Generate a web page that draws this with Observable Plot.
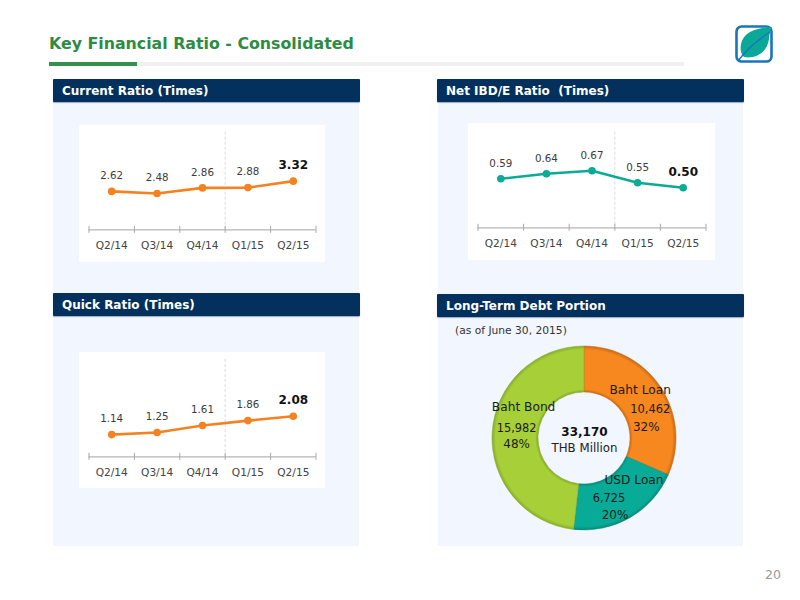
<!DOCTYPE html>
<html><head><meta charset="utf-8">
<script src="https://cdn.jsdelivr.net/npm/d3@7"></script>
<script src="https://cdn.jsdelivr.net/npm/@observablehq/plot@0.6"></script>
<style>
html,body{margin:0;padding:0;background:#fff;font-family:"DejaVu Sans",sans-serif}
#page{position:relative;width:800px;height:600px;overflow:hidden}
#page>*{position:absolute}
.bg{background:#f2f6fe}
.hd{background:#03305c;color:#fff;font-weight:bold;font-size:12px;line-height:24px;padding-left:9px;box-sizing:border-box;border-radius:1px;box-shadow:0 1px 1px rgba(0,30,70,.35);white-space:pre}
#title{left:49px;top:34px;color:#2e8b44;font-weight:bold;font-size:15.8px;line-height:20px;white-space:pre}
.chart svg{display:block}
</style></head><body>
<div id="page">
  <div id="title">Key Financial Ratio - Consolidated</div>
  <div style="left:137px;top:62px;width:547px;height:4px;background:#f1f0f1"></div>
  <div style="left:49px;top:62px;width:88px;height:4px;background:#34914a"></div>
  <svg style="left:734px;top:24px" width="41" height="40" viewBox="0 0 41 40">
    <rect x="2.5" y="2.5" width="35" height="35" rx="5" fill="#fff" stroke="#1b75bb" stroke-width="2.6"/>
    <path d="M38 3 C24 4 10 7 7 20 C6 26 7 30 10 33 C20 35 33 30 35 15 C35.5 10 36 6 38 3Z" fill="#0aa896"/>
    <path d="M4 37 C12 26 22 17 36 8" fill="none" stroke="#1b75bb" stroke-width="1.4"/>
  </svg>
  <div class="bg" style="left:53px;top:102px;width:306px;height:444px"></div>
  <div class="bg" style="left:438px;top:102px;width:305px;height:444px"></div>
  <div class="hd" style="left:53px;top:79px;width:307px;height:23px">Current Ratio (Times)</div>
  <div class="hd" style="left:437px;top:79px;width:307px;height:23px">Net IBD/E Ratio  (Times)</div>
  <div class="hd" style="left:53px;top:293px;width:307px;height:23px">Quick Ratio (Times)</div>
  <div class="hd" style="left:437px;top:294px;width:307px;height:23px">Long-Term Debt Portion</div>
  <div id="asof" style="left:455px;top:323px;font-size:10.7px;line-height:16px;color:#333">(as of June 30, 2015)</div>
  <div class="chart" id="c1" style="left:79px;top:125px"></div>
  <div class="chart" id="c2" style="left:468px;top:123px"></div>
  <div class="chart" id="c3" style="left:79px;top:352px"></div>
  <div class="chart" id="c4" style="left:479px;top:333px"></div>
  <div style="left:765px;top:567px;font-size:12.5px;line-height:15px;color:#9a9a9a">20</div>
</div>
<script>
const quarters = ["Q2/14","Q3/14","Q4/14","Q1/15","Q2/15"];
const currentRatio = [2.62,2.48,2.86,2.88,3.32];
const netIbdE = [0.59,0.64,0.67,0.55,0.50];
const quickRatio = [1.14,1.25,1.61,1.86,2.08];
const debtNames = ["Baht Loan","USD Loan","Baht Bond"];
const debtValues = [10462,6725,15982];
const debtShares = ["32%","20%","48%"];
const debtTotal = "33,170";

const ORANGE="#f58220", TEAL="#0bab96";
const FONT='"DejaVu Sans",sans-serif';
const positions = quarters.map((_,i)=>i);
const boundaries = [-0.5,0.5,1.5,2.5,3.5,4.5];

function lineChart(id, values, color, yDomain, w, h, mt, mb){
  const rows = values.map((v,i)=>({i,v,label:v.toFixed(2),last:i===values.length-1}));
  const plot = Plot.plot({
    width:w, height:h, marginTop:mt, marginBottom:mb, marginLeft:9.5, marginRight:9.5,
    style:{background:"#fff",fontFamily:FONT},
    x:{domain:[-0.5,4.5],axis:null,label:null},
    y:{domain:yDomain,axis:null,label:null},
    marks:[
      Plot.ruleX([2.5],{stroke:"#dcdcdc",strokeDasharray:"3,2",strokeWidth:1}),
      Plot.ruleY([yDomain[0]],{stroke:"#b5b5b5",strokeWidth:1.2}),
      Plot.axisX(boundaries,{tickSize:7,dy:-3.5,stroke:"#a8a8a8",tickFormat:()=>"",label:null}),
      Plot.axisX(positions,{tickSize:0,tickPadding:12,tickFormat:i=>quarters[i],fontSize:10.6,fill:"#444",strokeOpacity:0,label:null}),
      Plot.line(rows,{x:"i",y:"v",stroke:color,strokeWidth:2.6}),
      Plot.dot(rows,{x:"i",y:"v",fill:color,r:3.8}),
      Plot.text(rows.filter(d=>!d.last),{x:"i",y:"v",text:"label",dy:-15.5,fontSize:10.3,fill:"#3c3c3c"}),
      Plot.text(rows.filter(d=>d.last),{x:"i",y:"v",text:"label",dy:-16,fontSize:12,fontWeight:"bold",fill:"#111"})
    ]
  });
  document.getElementById(id).appendChild(plot);
}
lineChart("c1",currentRatio,ORANGE,[0,6.66],246,137,6.7,32.7);
lineChart("c2",netIbdE,TEAL,[0.1,1.056],247,137,8.7,32.7);
lineChart("c3",quickRatio,ORANGE,[0,5],246,136,7,31.7);

// donut
const R=92, r0=46;
const sliceColors=["#f7871f","#08ab97","#a6cf38"];
const sliceEdges=["#c96a12","#058a79","#87ab2a"];
const pie=d3.pie().sort(null)(debtValues);
const arc=d3.arc().innerRadius(r0).outerRadius(R);
const slices=pie.map((p,k)=>({name:debtNames[k],value:debtValues[k],share:debtShares[k],c:arc.centroid(p)}));
const labelMarks=[];
const off=[[[-2,-11],[8,9],[4,26]],[[15,-18],[-10,0],[-4,17]],[[8,-27],[1,-6],[1,10]]];
const sizes=[12.2,11.4,12];
slices.forEach((s,k)=>{
  const d3fmt=d3.format(",");
  [s.name,d3fmt(s.value),s.share].forEach((t,j)=>{
    labelMarks.push(Plot.text([s],{x:d=>d.c[0],y:d=>d.c[1],text:()=>t,dx:off[k][j][0],dy:off[k][j][1],fontSize:sizes[j],fill:"#1c1c1c"}));
  });
});
const donut=Plot.plot({
  width:210,height:210,margin:13,
  style:{background:"transparent",fontFamily:FONT},
  x:{domain:[-R,R],axis:null},
  y:{domain:[-R,R],reverse:true,axis:null},
  marks:[
    (index,scales)=>{
      const g=d3.create("svg:g").attr("transform",`translate(${scales.x(0)},${scales.y(0)})`);
      const defs=g.append("defs");
      pie.forEach((p,k)=>{
        const grad=defs.append("radialGradient").attr("id","g"+k).attr("gradientUnits","userSpaceOnUse").attr("cx",0).attr("cy",0).attr("r",R);
        [[0.5,sliceEdges[k]],[0.53,sliceColors[k]],[0.96,sliceColors[k]],[1,sliceEdges[k]]].forEach(([o,c])=>grad.append("stop").attr("offset",o).attr("stop-color",c));
        g.append("path").attr("d",arc(p)).attr("fill",`url(#g${k})`).attr("stroke",sliceEdges[k]).attr("stroke-width",0.5);
      });
      return g.node();
    },
    Plot.text([debtTotal],{x:()=>0,y:()=>0,text:d=>d,dy:-6,fontSize:12,fontWeight:"bold",fill:"#111"}),
    Plot.text(["THB Million"],{x:()=>0,y:()=>0,text:d=>d,dy:10,fontSize:11.8,fill:"#222"}),
    ...labelMarks
  ]
});
document.getElementById("c4").appendChild(donut);
</script>
</body></html>
